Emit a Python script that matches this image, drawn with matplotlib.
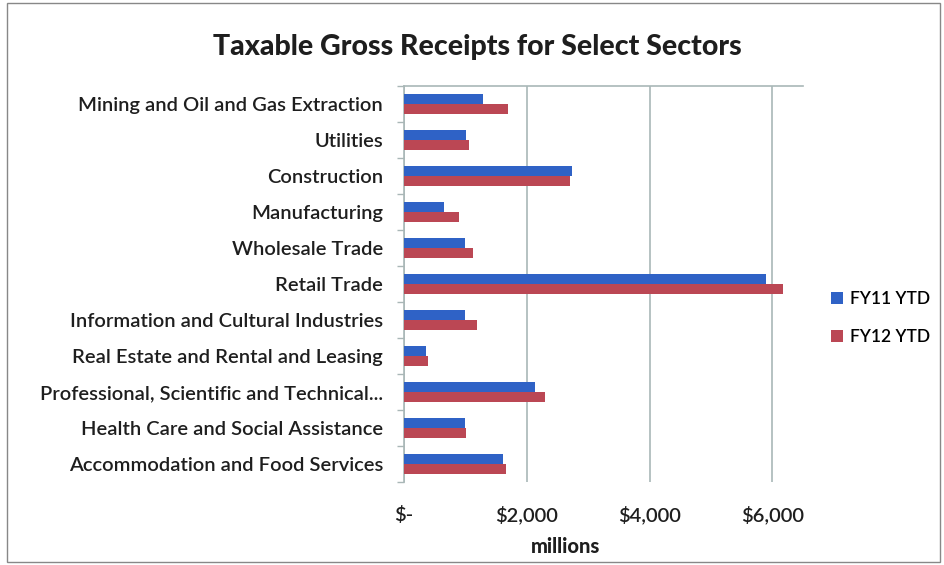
import matplotlib
matplotlib.use('Agg')
import matplotlib.pyplot as plt
from matplotlib.patches import Rectangle
from matplotlib.ticker import FixedLocator

plt.rcParams['font.family'] = ['Lato', 'DejaVu Sans']

sectors = ['Mining and Oil and Gas Extraction', 'Utilities', 'Construction',
           'Manufacturing', 'Wholesale Trade', 'Retail Trade',
           'Information and Cultural Industries', 'Real Estate and Rental and Leasing',
           'Professional, Scientific and Technical...', 'Health Care and Social Assistance',
           'Accommodation and Food Services']
fy11 = [1285, 1018, 2744, 653, 1001, 5890, 1001, 359, 2128, 1001, 1605]
fy12 = [1687, 1062, 2711, 903, 1132, 6167, 1187, 397, 2297, 1018, 1660]
xticks = [0, 2000, 4000, 6000]
xlabels = ['$-', '$2,000', '$4,000', '$6,000']

blue = '#2f62c6'
red = '#bb4754'
grid_c = '#a9b7b7'
txt_c = '#1e1e1e'

fig = plt.figure(figsize=(9.44, 5.65), dpi=100)
ax = fig.add_axes([404 / 944, 1 - 482 / 565, 399 / 944, 396 / 565])

ypos = list(range(len(sectors)))
h = 0.29
ax.barh([y - h / 2 for y in ypos], fy11, height=h, color=blue, label='FY11 YTD', zorder=3)
ax.barh([y + h / 2 for y in ypos], fy12, height=h, color=red, label='FY12 YTD', zorder=3)

ax.set_xlim(0, 6500)
ax.set_ylim(len(sectors) - 0.5, -0.5)
ax.set_xticks(xticks)
ax.set_xticklabels(xlabels, fontsize=14.5, fontweight='semibold', color=txt_c)
ax.set_yticks(ypos)
ax.set_yticklabels(sectors, fontsize=14.5, fontweight='semibold', color=txt_c)
ax.tick_params(axis='y', length=0, pad=15)
ax.tick_params(axis='x', length=0, pad=17)
ax.yaxis.set_minor_locator(FixedLocator([y - 0.5 for y in range(len(sectors) + 1)]))
ax.tick_params(axis='y', which='minor', length=5, color=grid_c, width=1)

ax.grid(axis='x', color=grid_c, linewidth=1.2, zorder=0)
ax.spines['right'].set_visible(False)
ax.spines['bottom'].set_visible(False)
for s in ['left', 'top']:
    ax.spines[s].set_color(grid_c)
    ax.spines[s].set_linewidth(1.2)

ax.set_xlabel('millions', fontsize=14.5, fontweight='black', color=txt_c)
ax.xaxis.set_label_coords((566 - 404) / 399, -0.14)

fig.text(477 / 944, 1 - 47 / 565, 'Taxable Gross Receipts for Select Sectors',
         ha='center', va='center', fontsize=20.5, fontweight='black', color=txt_c)

ax.legend(loc='center left', bbox_to_anchor=(815 / 944, 1 - 318 / 565),
          bbox_transform=fig.transFigure, frameon=False,
          prop={'size': 12.5, 'weight': 'semibold'},
          handlelength=0.7, handleheight=0.7, handletextpad=0.4, labelspacing=1.3)

fig.patches.append(Rectangle((7 / 944, 3 / 565), 933 / 944, 559 / 565,
                             transform=fig.transFigure, fill=False,
                             edgecolor='#888888', linewidth=1))

fig.savefig('out.png', dpi=100)
